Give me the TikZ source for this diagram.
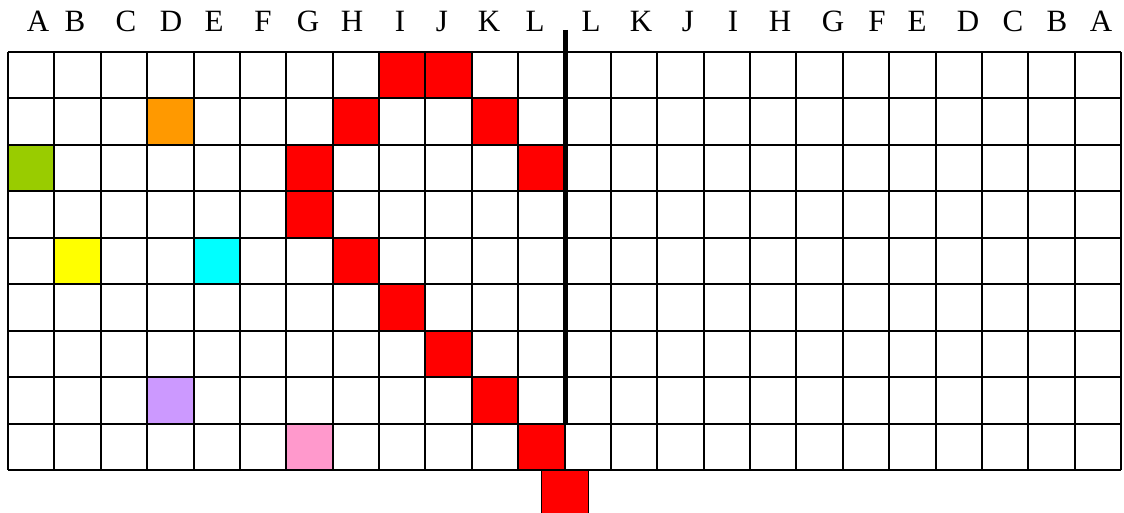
\documentclass[tikz,border=0pt]{standalone}
\usepackage{fontspec}
\setmainfont{Liberation Serif}
\usetikzlibrary{positioning}

\definecolor{hitred}{HTML}{FF0000}
\definecolor{dotorange}{HTML}{FF9900}
\definecolor{dotgreen}{HTML}{99CC00}
\definecolor{dotyellow}{HTML}{FFFF00}
\definecolor{dotcyan}{HTML}{00FFFF}
\definecolor{dotpurple}{HTML}{CC99FF}
\definecolor{dotpink}{HTML}{FF99CC}

\newcommand{\cellat}[3]{\fill[#3] ({8+46.375*#1},{52+46.44*#2}) rectangle ++(46.375,46.44);}

\begin{document}
\begin{tikzpicture}[x=1pt, y=-1pt,
        gridline/.style={draw=black, line width=2pt},
        divider/.style={draw=black, line width=5pt},
        letter/.style={anchor=base, inner sep=0pt, font=\fontsize{31}{31}\selectfont},
      ]
      \useasboundingbox (0,0) rectangle (1124,513);
      \clip (0,0) rectangle (1124,513);
      % coloured cells
      \foreach \c/\r in {8/0,9/0,7/1,10/1,6/2,11/2,6/3,7/4,8/5,9/6,10/7,11/8}
        \cellat{\c}{\r}{hitred};
      \cellat{3}{1}{dotorange}
      \cellat{0}{2}{dotgreen}
      \cellat{1}{4}{dotyellow}
      \cellat{4}{4}{dotcyan}
      \cellat{3}{7}{dotpurple}
      \cellat{6}{8}{dotpink}
      % grid
      \foreach \i in {0,...,24}
        \draw [gridline] ({8+46.375*\i},52) -- ++(0,417.96);
      \foreach \j in {0,...,9}
        \draw [gridline] (8,{52+46.44*\j}) -- ++(1113,0);
      % the cell that drops out below
      \filldraw [fill=hitred, draw=black, line width=1pt] (541.5,470) rectangle (588,520);
      % labels
      \foreach \n/\x in {A/38,B/75,C/126,D/171,E/214,F/263,G/308,H/352,I/400,J/442,K/489,L/535}
        \node [letter] (left\n) at (\x,32) {\n};
      \foreach \n/\x in {L/591,K/641,J/688,I/733,H/780,G/833,F/877,E/917,D/968,C/1013,B/1057,A/1101}
        \node [letter] (right\n) at (\x,32) {\n};
      \coordinate (divtop) at (565,30);
      \coordinate (divbot) at (565,423);
      \draw [divider] (divtop) -- (divbot);
    \end{tikzpicture}
\end{document}
